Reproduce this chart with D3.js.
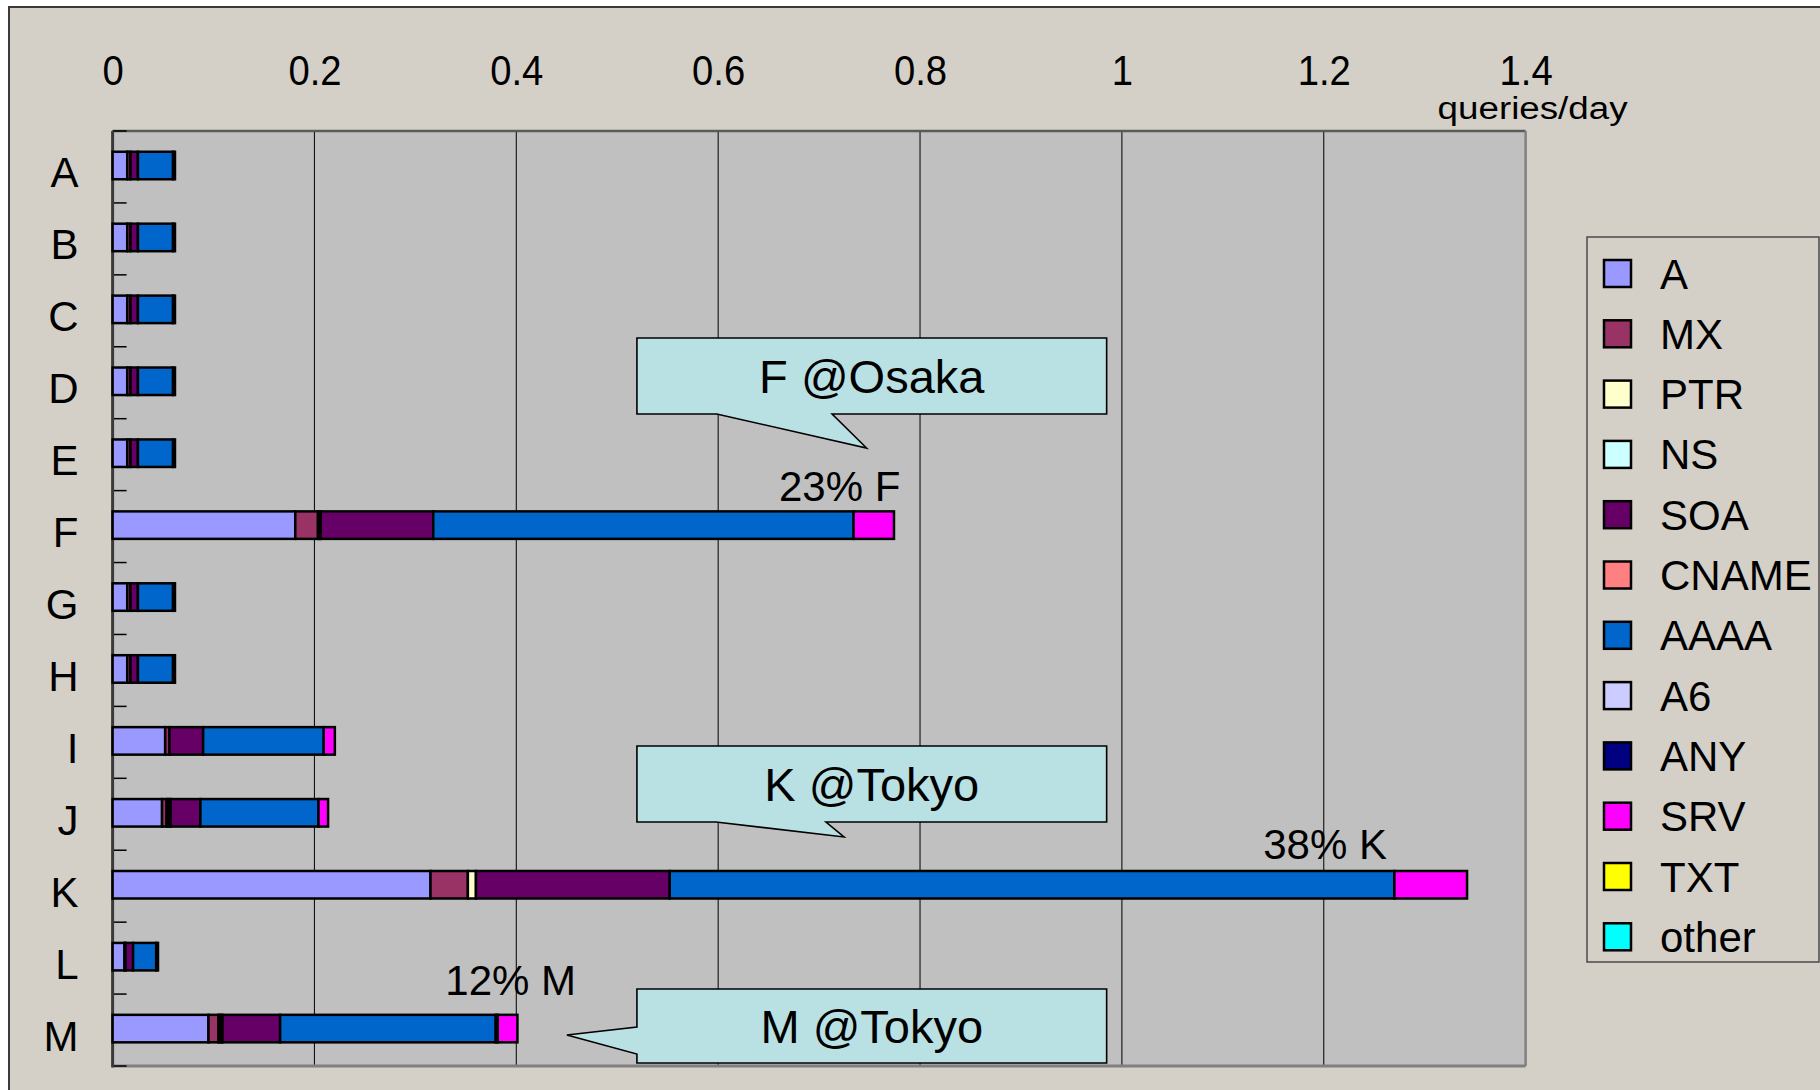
<!DOCTYPE html>
<html>
<head>
<meta charset="utf-8">
<script src="https://cdn.jsdelivr.net/npm/d3@7"></script>
<style>
  html, body { margin: 0; padding: 0; background: #ffffff; }
  svg { display: block; }
  text { font-family: "Liberation Sans", Arial, "DejaVu Sans", sans-serif; fill: #000; }
</style>
</head>
<body>
<svg id="chart" width="1820" height="1090"></svg>
<script>
// ---------------- DATA ----------------
const categories = ["A","B","C","D","E","F","G","H","I","J","K","L","M"];
const seriesNames = ["A","MX","PTR","NS","SOA","CNAME","AAAA","A6","ANY","SRV","TXT","other"];
const seriesColors = ["#9999FF","#993366","#FFFFCC","#CCFFFF","#660066","#FF8080","#0066CC","#CCCCFF","#000080","#FF00FF","#FFFF00","#00FFFF"];

// queries/day per root server (A..M)
const valA     = [0.0145,0.0145,0.0145,0.0145,0.0145,0.181,0.0145,0.0145,0.0521,0.049,0.315,0.0118,0.095];
const valMX    = [0.0032,0.0032,0.0032,0.0032,0.0032,0.0225,0.0032,0.0032,0.0043,0.0045,0.037,0.001,0.0099];
const valPTR   = [0,0,0,0,0,0.0015,0,0,0,0.002,0.008,0,0.002];
const valNS    = [0,0,0,0,0,0.0012,0,0,0,0.002,0,0,0.002];
const valSOA   = [0.0074,0.0074,0.0074,0.0074,0.0074,0.1115,0.0074,0.0074,0.0333,0.0295,0.192,0.0075,0.0571];
const valCNAME = [0,0,0,0,0,0,0,0,0,0,0,0,0];
const valAAAA  = [0.0348,0.0348,0.0348,0.0348,0.0348,0.4165,0.0348,0.0348,0.1195,0.117,0.718,0.0229,0.2136];
const valA6    = [0,0,0,0,0,0,0,0,0,0,0,0,0];
const valANY   = [0,0,0,0,0,0,0,0,0,0,0,0,0.002];
const valSRV   = [0.0019,0.0019,0.0019,0.0019,0.0019,0.040,0.0019,0.0019,0.011,0.0095,0.072,0.0018,0.0195];
const valTXT   = [0,0,0,0,0,0,0,0,0,0,0,0,0];
const valOther = [0,0,0,0,0,0,0,0,0,0,0,0,0];

const xTickValues = [0,0.2,0.4,0.6,0.8,1,1.2,1.4];
const xTickLabels = ["0","0.2","0.4","0.6","0.8","1","1.2","1.4"];
const xUnitLabel = "queries/day";

const pctLabels = ["23% F","38% K","12% M"];
const pctCats   = ["F","K","M"];
const calloutTexts = ["F @Osaka","K @Tokyo","M @Tokyo"];

// ---------------- BUILD TABLE ----------------
const seriesValues = [valA,valMX,valPTR,valNS,valSOA,valCNAME,valAAAA,valA6,valANY,valSRV,valTXT,valOther];
const table = categories.map((c,i) => {
  const row = {cat: c};
  seriesNames.forEach((s,j) => row[s] = seriesValues[j][i]);
  return row;
});
const stacked = d3.stack().keys(seriesNames)(table);

// ---------------- LAYOUT ----------------
const svg = d3.select("#chart");
const W = 1820, H = 1090;
const plot = {left: 112.6, top: 131, right: 1525.6, bottom: 1066};

const x = d3.scaleLinear().domain([0,1.4]).range([plot.left, plot.right]);
const y = d3.scaleBand().domain(categories).range([plot.top, plot.bottom]);
const bw = y.bandwidth();
const color = d3.scaleOrdinal().domain(seriesNames).range(seriesColors);

// outer background & frame
svg.append("rect").attr("x",0).attr("y",0).attr("width",W).attr("height",H).attr("fill","#ffffff");
svg.append("rect").attr("x",9).attr("y",7).attr("width",W+20).attr("height",H+20)
  .attr("fill","#D4D0C8").attr("stroke","#3a3a3a").attr("stroke-width",2);

// plot area
svg.append("rect").attr("x",plot.left).attr("y",plot.top)
  .attr("width",plot.right-plot.left).attr("height",plot.bottom-plot.top)
  .attr("fill","#C0C0C0");

// gridlines
svg.append("g").selectAll("line").data(xTickValues.filter(v => v > 0 && v < 1.4)).join("line")
  .attr("x1",d => x(d)).attr("x2",d => x(d))
  .attr("y1",plot.top).attr("y2",plot.bottom)
  .attr("stroke","#111").attr("stroke-width",1.1);

// plot borders
svg.append("line").attr("x1",plot.left).attr("x2",plot.right).attr("y1",plot.top).attr("y2",plot.top)
  .attr("stroke","#5a5a5a").attr("stroke-width",2.5);
svg.append("line").attr("x1",plot.right).attr("x2",plot.right).attr("y1",plot.top).attr("y2",plot.bottom)
  .attr("stroke","#808080").attr("stroke-width",2.5);
svg.append("line").attr("x1",plot.left).attr("x2",plot.right).attr("y1",plot.bottom).attr("y2",plot.bottom)
  .attr("stroke","#808080").attr("stroke-width",3);

// top axis labels (no axis line, text only)
const xAxis = d3.axisTop(x).tickValues(xTickValues).tickSize(0).tickPadding(0)
  .tickFormat((d,i) => xTickLabels[i]);
const gx = svg.append("g").attr("transform",`translate(0,85)`).call(xAxis);
gx.select(".domain").remove();
gx.selectAll("text").attr("font-size",42).attr("dy",0).attr("transform","scale(0.91,1)")
  .attr("font-family",'"Liberation Sans", Arial, sans-serif').attr("fill","#000");

svg.append("text").attr("x",x(1.4)+7).attr("y",119).attr("text-anchor","middle")
  .attr("font-size",31).attr("textLength",190).attr("lengthAdjust","spacingAndGlyphs")
  .text(xUnitLabel);

// left axis line and category ticks
const boundaries = categories.map(c => y(c)).concat([plot.bottom]);
svg.append("g").selectAll("line").data(boundaries).join("line")
  .attr("x1",plot.left).attr("x2",plot.left+14).attr("y1",d => d).attr("y2",d => d)
  .attr("stroke","#000").attr("stroke-width",1.5);
svg.append("line").attr("x1",plot.left).attr("x2",plot.left).attr("y1",plot.top).attr("y2",plot.bottom+1.5)
  .attr("stroke","#3a3a3a").attr("stroke-width",3);

// category labels (right-aligned)
svg.append("g").selectAll("text").data(categories).join("text")
  .attr("x",78.5).attr("y",d => y(d)+bw/2+20.5).attr("text-anchor","end")
  .attr("font-size",42).text(d => d);

// bars
const barH = 27.5;
svg.append("g").selectAll("g").data(stacked).join("g")
  .attr("fill",d => color(d.key))
  .selectAll("rect").data(d => d.filter(p => p[1]-p[0] > 0)).join("rect")
  .attr("x",d => x(d[0])).attr("width",d => x(d[1])-x(d[0]))
  .attr("y",d => y(d.data.cat)+bw/2-15.2).attr("height",barH)
  .attr("stroke","#000").attr("stroke-width",2.5);

// percentage annotations
const pctX = [0.7805, 1.2627, 0.4592];
const pctDy = [-26, -27, -35];
svg.append("g").selectAll("text").data(pctLabels).join("text")
  .attr("x",(d,i) => x(pctX[i])).attr("y",(d,i) => y(pctCats[i])+bw/2+pctDy[i])
  .attr("text-anchor","end").attr("font-size",42).text(d => d);

// callouts
const bxL = x(0.5195), bxR = x(0.9849);
const calloutShapes = [
  {top: 338, bottom: 414, path: (t,b) => `M${bxL},${t}H${bxR}V${b}H${x(0.7129)}L${x(0.747)},${b+34}L${x(0.5985)},${b}H${bxL}Z`},
  {top: 746, bottom: 822, path: (t,b) => `M${bxL},${t}H${bxR}V${b}H${x(0.7068)}L${x(0.7247)},${b+15}L${x(0.5977)},${b}H${bxL}Z`},
  {top: 989, bottom: 1063, path: (t,b) => `M${bxL},${t}H${bxR}V${b}H${bxL}V${1054}L${x(0.4501)},${1035}L${bxL},${1027}Z`}
];
const cg = svg.append("g");
calloutShapes.forEach((s,i) => {
  cg.append("path").attr("d",s.path(s.top,s.bottom))
    .attr("fill","#B9E0E3").attr("stroke","#000").attr("stroke-width",1.6).attr("stroke-linejoin","miter");
  cg.append("text").attr("x",(bxL+bxR)/2).attr("y",(s.top+s.bottom)/2+16.5)
    .attr("text-anchor","middle").attr("font-size",47).attr("xml:space","preserve")
    .text(calloutTexts[i]);
});

// legend
const lg = svg.append("g");
lg.append("rect").attr("x",1587).attr("y",237).attr("width",232).attr("height",725)
  .attr("fill","#D4D0C8").attr("stroke","#4a4a4a").attr("stroke-width",1.5);
const items = lg.selectAll("g.item").data(seriesNames).join("g").attr("class","item")
  .attr("transform",(d,i) => `translate(0,${i*60.3})`);
items.append("rect").attr("x",1604).attr("y",260).attr("width",27).attr("height",27)
  .attr("fill",d => color(d)).attr("stroke","#000").attr("stroke-width",2.5);
items.append("text").attr("x",1660).attr("y",288.5).attr("font-size",42).text(d => d);
</script>
</body>
</html>
